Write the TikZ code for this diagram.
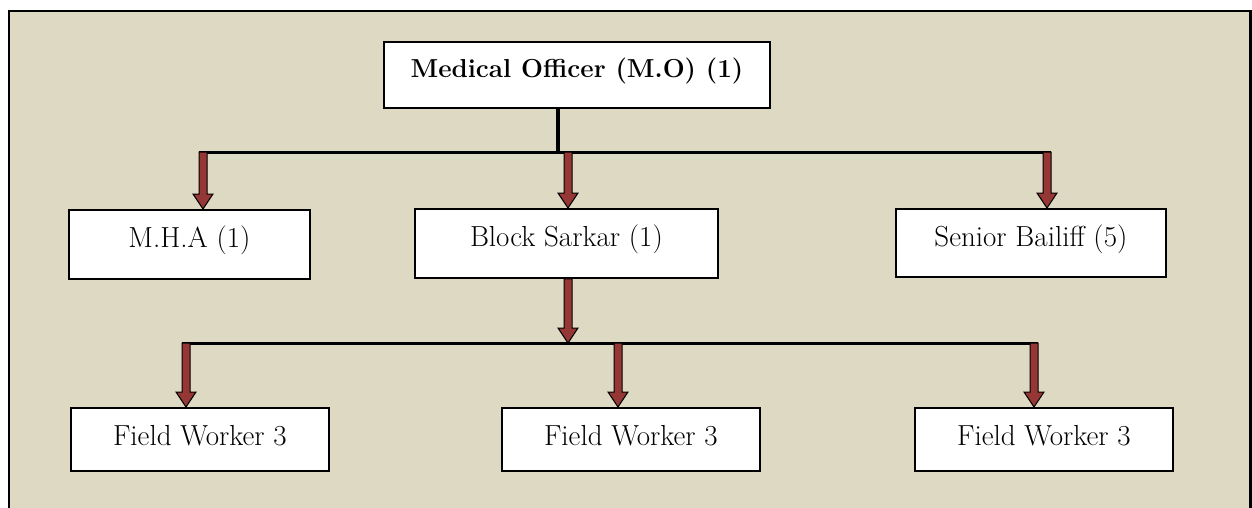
\documentclass[tikz,border=0pt]{standalone}
\usetikzlibrary{calc}
\definecolor{panel}{RGB}{221,217,195}
\definecolor{arrowred}{RGB}{149,55,53}
% block arrow pointing down from #1 to #2
\newcommand\blockarrow[2]{%
  \draw[arrowbody] let \p1=(#1), \p2=(#2) in
    (\x1-4pt,\y1) -- (\x1-4pt,\y2+15pt) -- (\x1-10pt,\y2+15pt) -- (\x1,\y2)
    -- (\x1+10pt,\y2+15pt) -- (\x1+4pt,\y2+15pt) -- (\x1+4pt,\y1) -- cycle;}
\begin{document}
\begin{tikzpicture}[x=1pt,y=-1pt,
  box/.style={draw=black,line width=1.8pt,fill=white,inner sep=0pt,
    anchor=north west,font=\fontsize{29}{33}\selectfont},
  rowtwo/.style={box,text height=38pt,text depth=31pt},
  rowthree/.style={box,text height=38pt,text depth=25pt,minimum width=258pt},
  bus/.style={line width=3pt},
  stem/.style={line width=4.5pt},
  arrowbody/.style={draw=black,fill=arrowred,line width=1pt,line join=miter}]
\useasboundingbox (0,0) rectangle (1252,507);
\clip (0,0) rectangle (1252,507);

% panel
\fill[panel] (9,11) rectangle (1251,530);
\draw[line width=2.5pt] (9,530) -- (9,11) -- (1250.5,11) -- (1250.5,530);

% boxes
\node[box,minimum width=386pt,text height=36pt,text depth=30pt,
  font=\fontsize{26}{30}\selectfont\bfseries] (mo) at (383,41) {Medical Officer (M.O) (1)};
\node[rowtwo,minimum width=241pt] (mha) at (68,209) {M.H.A (1)};
\node[rowtwo,minimum width=303pt] (bs) at (414,208) {Block Sarkar (1)};
\node[rowtwo,minimum width=270pt,text depth=30pt] (sb) at (895,208) {Senior Bailiff (5)};
\node[rowthree] (fw1) at (70,407) {Field Worker 3};
\node[rowthree] (fw2) at (501,407) {Field Worker 3};
\node[rowthree] (fw3) at (914,407) {Field Worker 3};

% first level bus
\coordinate (j1) at (558,152);
\coordinate (a1) at (203,152);
\coordinate (a2) at (568,152);
\coordinate (a3) at (1047,152);
\draw[stem] (j1 |- mo.south) -- (j1);
\draw[bus] ($(a1)+(-4,0)$) -- ($(a3)+(4,0)$);
\blockarrow{a1}{a1 |- mha.north}
\blockarrow{a2}{a2 |- bs.north}
\blockarrow{a3}{a3 |- sb.north}

% second level bus
\coordinate (j2) at (568,343);
\coordinate (c1) at (186,343);
\coordinate (c2) at (618,343);
\coordinate (c3) at (1034,343);
\draw[bus] ($(c1)+(-4,0)$) -- ($(c3)+(4,0)$);
\blockarrow{j2 |- bs.south}{j2}
\blockarrow{c1}{c1 |- fw1.north}
\blockarrow{c2}{c2 |- fw2.north}
\blockarrow{c3}{c3 |- fw3.north}
\end{tikzpicture}
\end{document}
